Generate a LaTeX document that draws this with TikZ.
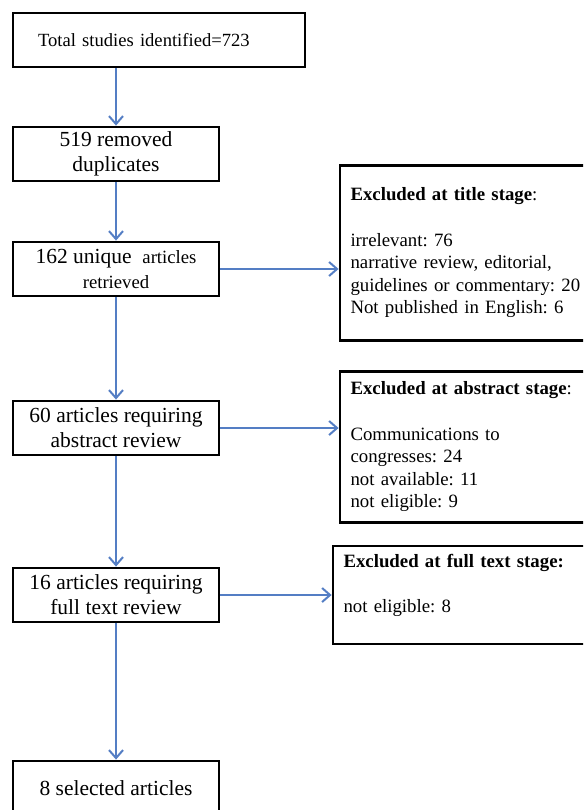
\documentclass[tikz,border=0pt]{standalone}
\usepackage{fontspec}
\setmainfont{Liberation Serif}
\usetikzlibrary{positioning,arrows.meta}
\definecolor{flowblue}{RGB}{84,126,196}
\frenchspacing

\begin{document}
\begin{tikzpicture}[x=1pt,y=1pt,>={Straight Barb[length=8pt,width=14pt,line width=2pt]},
        stagebox/.style={draw, rectangle, line width=2.8pt, minimum width=206pt, minimum height=54pt, inner sep=2pt, align=center, font=\fontsize{21.5}{25}\selectfont},
        excludebox/.style={draw, rectangle, line width=2.8pt, text width=250pt, inner xsep=10.5pt, align=left, font=\fontsize{18.8}{22.6}\selectfont},
        flow/.style={->, draw=flowblue, line width=1.3pt}]
        \useasboundingbox (0,0) rectangle (583,-810);
        \clip (0,0) rectangle (583,-810);

        \node (total) [stagebox, minimum width=292pt, text width=242pt, align=left, font=\fontsize{18.6}{22}\selectfont] at (159,-40) {Total studies identified=723};
        \node (dup) [stagebox, below=57.2pt of total.south west, anchor=north west] {519 removed\\duplicates};
        \node (uniq) [stagebox, below=58.2pt of dup] {162 unique\ \ {\fontsize{18.7}{22}\selectfont articles}\\{\fontsize{18.7}{22}\selectfont retrieved}};
        \node (abst) [stagebox, below=102.2pt of uniq] {60 articles requiring\\abstract review};
        \node (full) [stagebox, below=110.2pt of abst] {16 articles requiring\\full text review};
        \node (sel) [stagebox, below=136.2pt of full] {8 selected articles};

        \node (title) [excludebox, minimum height=175pt, right=118.2pt of uniq, yshift=16pt] {\textbf{Excluded at title stage}:\\[22.6pt]irrelevant: 76\\narrative review, editorial,\\guidelines or commentary: 20\\Not published in English: 6};
        \node (abstex) [excludebox, minimum height=151pt, right=118.2pt of abst, yshift=-19pt] {\textbf{Excluded at abstract stage}:\\[22.6pt]Communications to\\congresses: 24\\not available: 11\\not eligible: 9};
        \node (fullex) [excludebox, minimum height=98pt, right=111.2pt of full] {\textbf{Excluded at full text stage:}\\[22.6pt]not eligible: 8\\\mbox{}};

        \draw[flow] (total.south -| dup.north) -- (dup);
        \draw[flow] (dup) -- (uniq);
        \draw[flow] (uniq) -- (abst);
        \draw[flow] (abst) -- (full);
        \draw[flow] (full) -- (sel);
        \draw[flow] (uniq.east) -- (uniq.east -| title.west);
        \draw[flow] (abst.east) -- (abst.east -| abstex.west);
        \draw[flow] (full.east) -- (full.east -| fullex.west);
    \end{tikzpicture}
\end{document}
